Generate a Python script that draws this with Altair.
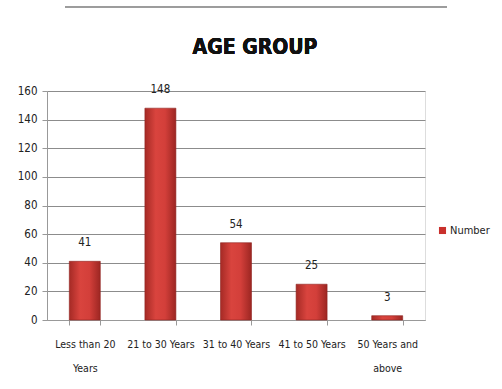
import altair as alt
import pandas as pd

categories = ["Less than 20 Years", "21 to 30 Years", "31 to 40 Years", "41 to 50 Years", "50 Years and above"]
values = [41, 148, 54, 25, 3]
label_lines = {
    "Less than 20 Years": ["Less than 20", "Years"],
    "21 to 30 Years": ["21 to 30 Years"],
    "31 to 40 Years": ["31 to 40 Years"],
    "41 to 50 Years": ["41 to 50 Years"],
    "50 Years and above": ["50 Years and", "above"],
}
series_name = "Number"
title_text = "AGE GROUP"

df = pd.DataFrame({"category": categories, "value": values, "series": [series_name] * len(values)})

FONT = "DejaVu Sans Condensed"

expr = " : ".join(
    f"datum.label == '{k}' ? {v!r}" for k, v in label_lines.items()
) + " : datum.label"

x_enc = alt.X(
    "category:N",
    sort=categories,
    title=None,
    scale=alt.Scale(paddingInner=0.59, paddingOuter=0.295),
    axis=alt.Axis(
        labelAngle=0,
        labelExpr=expr,
        labelFont=FONT,
        labelFontSize=10.5,
        labelColor="#222222",
        labelPadding=14,
        labelLineHeight=24,
        labelOverlap=False,
        tickBand="extent",
        tickSize=5,
        tickColor="#999999",
        domainColor="#999999",
        grid=False,
    ),
)
y_enc = alt.Y(
    "value:Q",
    title=None,
    scale=alt.Scale(domain=[0, 160], nice=False),
    axis=alt.Axis(
        values=list(range(0, 161, 20)),
        tickCount=10,
        labelOverlap=False,
        labelFont=FONT,
        labelFontSize=11.5,
        labelColor="#222222",
        labelPadding=5,
        tickSize=5,
        tickColor="#999999",
        domainColor="#999999",
        gridColor="#8c8c8c",
        gridWidth=1,
    ),
)

bar_fill = alt.Gradient(
    gradient="linear",
    x1=0, x2=1, y1=0, y2=0,
    stops=[
        alt.GradientStop(offset=0, color="#a52a25"),
        alt.GradientStop(offset=0.35, color="#d9443e"),
        alt.GradientStop(offset=0.65, color="#d33f3a"),
        alt.GradientStop(offset=1, color="#9c2622"),
    ],
)

bars = alt.Chart(df).mark_bar(fill=bar_fill, stroke="#8e2420", strokeWidth=0.6).encode(
    x=x_enc,
    y=y_enc,
    color=alt.Color(
        "series:N",
        scale=alt.Scale(range=["#c9302c"]),
        legend=alt.Legend(
            title=None,
            orient="none",
            legendX=390,
            legendY=134,
            symbolType="square",
            symbolSize=50,
            symbolStrokeWidth=0,
            labelFont=FONT,
            labelFontSize=11,
            labelColor="#222222",
            labelOffset=2,
        ),
    ),
)

labels = alt.Chart(df).mark_text(
    font=FONT, fontSize=11.5, color="#222222", baseline="bottom", dy=-13
).encode(
    x=x_enc,
    y=y_enc,
    text="value:Q",
)

title = alt.Chart(df).mark_text(
    font=FONT, fontSize=21, fontWeight="bold", color="#111111", baseline="alphabetic"
).encode(
    x=alt.value(208), y=alt.value(-37), text=alt.value(title_text)
)

topline = alt.Chart(df).mark_rule(color="#999999", strokeWidth=1).encode(
    x=alt.value(18), x2=alt.value(400), y=alt.value(-84)
)

chart = alt.layer(bars, labels, title, topline).properties(
    width=378,
    height=229,
    padding={"left": 47, "top": 91, "right": 77, "bottom": 69},
    autosize=alt.AutoSizeParams(type="none"),
).configure_view(stroke=None).configure(background="white")

chart.save("out.html", embed_options={"renderer": "svg", "actions": False})
